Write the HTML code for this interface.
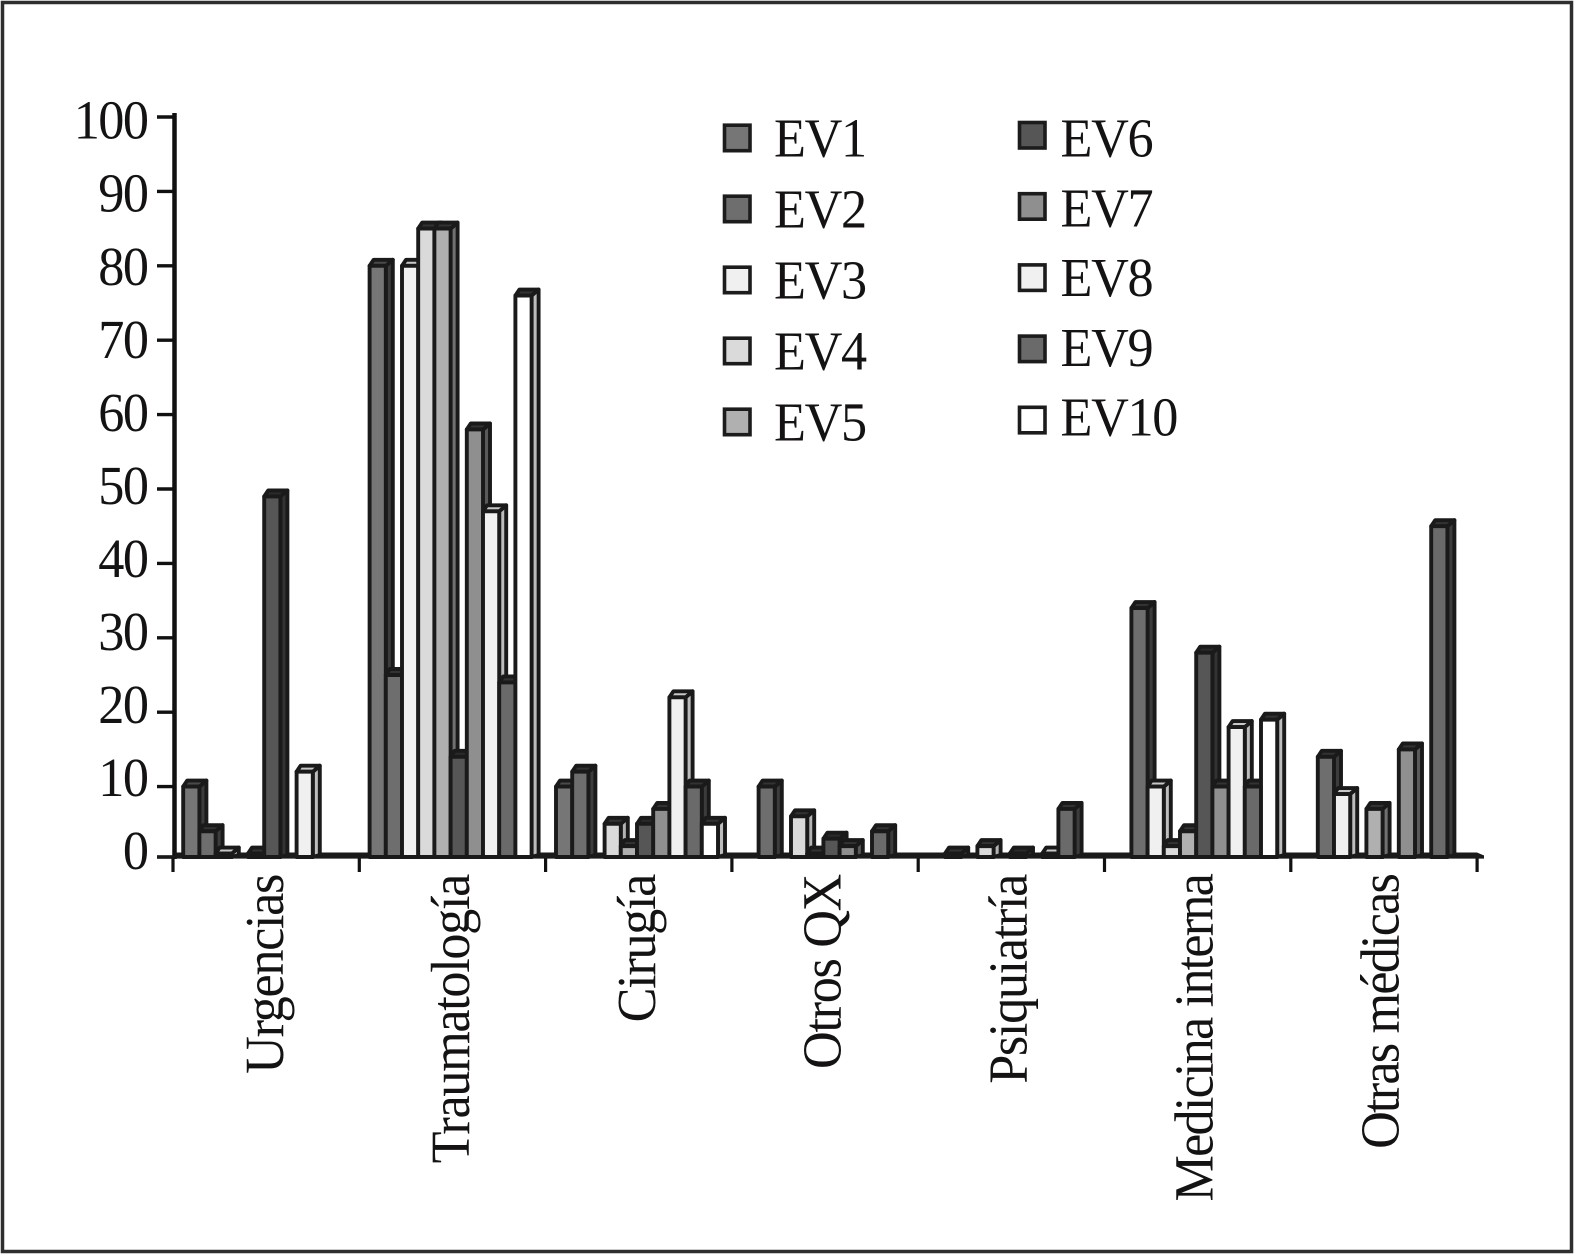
<!DOCTYPE html>
<html lang="es">
<head>
<meta charset="utf-8">
<title>EV por servicio</title>
<style>
html,body{margin:0;padding:0;background:#fff;}
svg{display:block;filter:blur(0.35px);}
text{font-family:"Liberation Serif",serif;fill:#151213;font-size:55px;}
</style>
</head>
<body>
<svg id="chart" xmlns="http://www.w3.org/2000/svg" width="1575" height="1255" viewBox="0 0 1575 1255">
  <rect x="0" y="0" width="1575" height="1255" fill="#ffffff"/>
  <rect x="2.5" y="2.5" width="1569" height="1249" fill="none" stroke="#2e2e2e" stroke-width="3.5"/>
  <g id="y-axis-group"></g>
  <g id="x-axis-group"></g>
  <g id="bars-group"></g>
  <g id="legend-group"></g>
</svg>
<script>
const categories = ["Urgencias", "Traumatología", "Cirugía", "Otros QX", "Psiquiatría", "Medicina interna", "Otras médicas"];
const seriesNames = ["EV1", "EV2", "EV3", "EV4", "EV5", "EV6", "EV7", "EV8", "EV9", "EV10"];
const yTickLabels = [0, 10, 20, 30, 40, 50, 60, 70, 80, 90, 100];
const ev1 = [10, 80, 10, 0, 0, 0, 0];
const ev2 = [4, 25, 12, 10, 1, 34, 14];
const ev3 = [1, 80, 0, 0, 0, 10, 9];
const ev4 = [0, 85, 5, 6, 2, 2, 0];
const ev5 = [1, 85, 2, 1, 0, 4, 7];
const ev6 = [49, 14, 5, 3, 1, 28, 0];
const ev7 = [0, 58, 7, 2, 0, 10, 15];
const ev8 = [12, 47, 22, 0, 1, 18, 0];
const ev9 = [0, 24, 10, 4, 7, 10, 45];
const ev10 = [0, 76, 5, 0, 0, 19, 0];
const seriesValues = [ev1, ev2, ev3, ev4, ev5, ev6, ev7, ev8, ev9, ev10];
const seriesFills = ["#767676", "#6e6e6e", "#f0f0f0", "#dadada", "#b0b0b0", "#565656", "#8f8f8f", "#f0f0f0", "#6a6a6a", "#ffffff"];
const seriesSides = ["#3c3c3c", "#3c3c3c", "#bdbdbd", "#b4b4b4", "#707070", "#333333", "#5a5a5a", "#bdbdbd", "#3c3c3c", "#bdbdbd"];
const seriesTops = ["#4a4a4a", "#333333", "#c8c8c8", "#333333", "#333333", "#2a2a2a", "#333333", "#c8c8c8", "#333333", "#333333"];

const NS = "http://www.w3.org/2000/svg";
const INK = "#1a1a1a";
const FLOOR_Y = 857;
const BAR_W = 16.2;
const DEPTH_X = 7;
const DEPTH_Y = 6;
const DEPTH_LEFT = 4;

function yScale(v) { return 861 - 7.44 * v; }
function yTickPos(v) { return Math.min(yScale(v), FLOOR_Y); }
function yLabelPos(v) { return 869 - 7.303 * v; }
function xTickPos(i) { return 173 + 186.3 * i; }
function xBar(cat, ser) { return 183.2 + 186.4 * cat + BAR_W * ser; }
function xLabelPos(i) { return 283 + 185.9 * i; }
function labelTracking(name) { return (name === "Medicina interna" || name === "Otras médicas") ? -1.9 : -1.4; }

function mk(tag, attrs, parent) {
  const el = document.createElementNS(NS, tag);
  for (const k in attrs) el.setAttribute(k, attrs[k]);
  parent.appendChild(el);
  return el;
}

const yGroup = document.getElementById("y-axis-group");
const xGroup = document.getElementById("x-axis-group");
const barsGroup = document.getElementById("bars-group");
const legendGroup = document.getElementById("legend-group");

/* y axis */
const yLine = mk("line", {x1: 174.5, y1: 113, x2: 174.5, y2: FLOOR_Y + 2, stroke: "#111", "stroke-width": 4.5}, yGroup);


yTickLabels.forEach(function (v) {
  const tick = mk("line", {x1: 157, y1: yTickPos(v), x2: 175, y2: yTickPos(v), stroke: "#111", "stroke-width": 3.4}, yGroup);
  
  
  const label = mk("text", {"text-anchor": "end", "letter-spacing": "-1.6", transform: "translate(147.5," + yLabelPos(v) + ") scale(0.95,1)"}, yGroup);
  
  
  label.textContent = String(v);
});

/* floor band behind bars */
const floorBack = mk("polygon", {points: "175,852.5 1477,852.5 1484,855.5 1484,858.5 175,858.5", fill: INK}, xGroup);



/* x ticks + category labels */
for (let i = 0; i <= categories.length; i++) {
  const tick = mk("line", {x1: xTickPos(i), y1: FLOOR_Y, x2: xTickPos(i), y2: 872, stroke: "#111", "stroke-width": 3.2}, xGroup);
  
  
}
categories.forEach(function (name, i) {
  const label = mk("text", {"text-anchor": "end", "letter-spacing": labelTracking(name), transform: "translate(" + xLabelPos(i) + ",875) rotate(-90) scale(0.95,1)"}, xGroup);
  
  
  label.textContent = name;
});

/* bars */
categories.forEach(function (cat, c) {
  seriesValues.forEach(function (vals, s) {
    const v = vals[c];
    if (v <= 0) return;
    const x = xBar(c, s);
    const y = Math.min(yScale(v), FLOOR_Y - 1);
    const g = mk("g", {stroke: INK, "stroke-width": 3.9, "stroke-linejoin": "round"}, barsGroup);
    
    
    mk("polygon", {points: [x + BAR_W, y, x + BAR_W + DEPTH_X, y - DEPTH_Y, x + BAR_W + DEPTH_X, FLOOR_Y - 2, x + BAR_W, FLOOR_Y].join(" "), fill: seriesSides[s]}, g);
    mk("polygon", {points: [x, y, x + DEPTH_LEFT, y - DEPTH_Y, x + BAR_W + DEPTH_X, y - DEPTH_Y, x + BAR_W, y].join(" "), fill: seriesTops[s]}, g);
    mk("rect", {x: x, y: y, width: BAR_W, height: FLOOR_Y - y, fill: seriesFills[s]}, g);
  });
});

/* floor line on top of bars */
const floorFront = mk("line", {x1: 157, y1: FLOOR_Y, x2: 1484, y2: FLOOR_Y, stroke: INK, "stroke-width": 3.2}, xGroup);
barsGroup.parentNode.insertBefore(floorFront, legendGroup);



/* legend */
seriesNames.forEach(function (name, s) {
  const left = s < 5;
  const row = left ? s : s - 5;
  const boxX = left ? 724.5 : 1019.5;
  const boxY = left ? 137.7 + 71 * row : 135 + 71.2 * row;
  const textX = left ? 774 : 1060.5;
  const baseY = left ? 156.7 + 71 * row : 156.7 + 69.7 * row;
  const item = mk("g", {}, legendGroup);
  
  
  const swatch = mk("rect", {x: boxX, y: boxY - 12.5, width: 25.5, height: 25.5, fill: seriesFills[s], stroke: "#1c1c1c", "stroke-width": 3.6}, item);
  
  
  const label = mk("text", {"letter-spacing": "-1.4", transform: "translate(" + textX + "," + baseY + ") scale(0.95,1)"}, item);
  
  
  label.textContent = name;
});
</script>
</body>
</html>
